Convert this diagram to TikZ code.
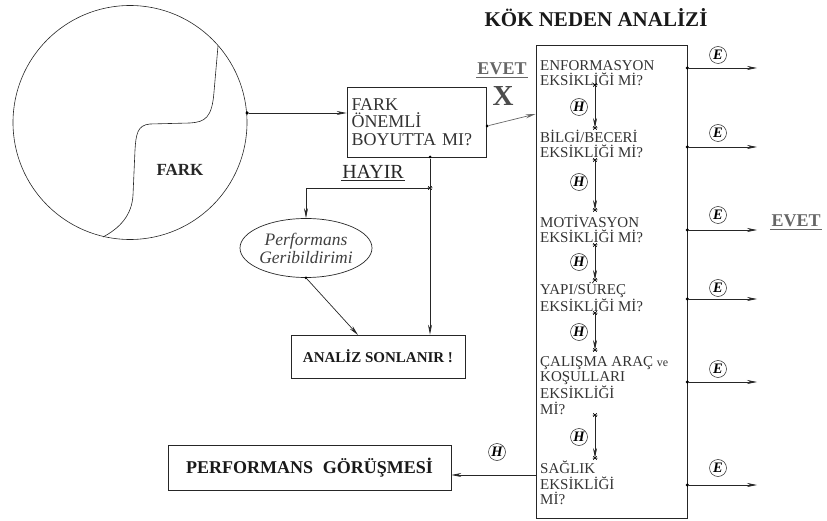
\documentclass[tikz,border=0pt]{standalone}
\usepackage{fontspec}
\setmainfont{Liberation Serif}
\usetikzlibrary{arrows.meta,shapes.geometric}

\tikzset{
  ln/.style={draw=black!85, line width=0.7pt},
  arr/.style={ln, -{Stealth[length=10pt,width=4pt]}},
  q/.style={anchor=base west, align=left, inner sep=0pt,
    font=\fontsize{15}{15.5}\selectfont, text=black!80},
  tag/.style={circle, draw=black!85, line width=0.5pt, minimum size=17pt,
    inner sep=0pt, font=\fontsize{14.5}{14.5}\selectfont\bfseries\itshape},
  dot/.style={circle, fill=black, inner sep=0pt, minimum size=3.5pt},
  astk/.pic={\draw[line width=0.5pt] (-2.5,0)--(2.5,0) (-1.8,-1.8)--(1.8,1.8) (-1.8,1.8)--(1.8,-1.8);},
  bbox/.style={draw=black!85, line width=0.7pt, inner sep=0pt},
  yes/.style={font=\fontsize{18}{18}\selectfont\bfseries, text=black!60, inner sep=1pt},
  uline/.style={draw=black!60, line width=1.3pt}
}

\begin{document}
\begin{tikzpicture}[x=1pt,y=-1pt]
\useasboundingbox (0,0) rectangle (827,521);

% --- the difference circle ---
\node[circle, draw=black!85, line width=0.6pt, minimum size=234pt, inner sep=0pt] (fcirc) at (130,122.5) {};
\draw[ln, line width=0.6pt] (218,46) -- (214,92) .. controls (212,118) and (205,122) .. (190,123)
  -- (150,124) .. controls (137,125) and (136,135) .. (135,150)
  -- (133,195) .. controls (132,215) and (120,228) .. (103,237);
\node[font=\fontsize{17}{17}\selectfont\bfseries, text=black!85] (farklbl) at (180,170) {FARK};
\coordinate (cdot) at (247,113);
\node[dot] (cdotn) at (cdot) {};

% --- decision box ---
\node[bbox, minimum width=139pt, minimum height=70pt, text width=130pt, align=left,
  font=\fontsize{18}{17.5}\selectfont, text=black!80] (fark) at (416.5,122)
  {FARK\\ÖNEMLİ\\BOYUTTA MI?};
\draw[arr] (cdotn) -- (cdot -| fark.west);

% --- yes branch label ---
\node[yes] (evet1) at (502,69) {EVET};
\draw[uline] ([yshift=-1pt]evet1.south west) -- ([yshift=-1pt]evet1.south east);
\node[font=\fontsize{29}{29}\selectfont\bfseries, text=black!70, inner sep=0pt] (xmark) at (503,96) {X};

% --- no branch ---
\node[font=\fontsize{20}{20}\selectfont, text=black!85, inner sep=1pt] (hayir) at (373,172) {HAYIR};
\draw[draw=black!85, line width=1.2pt] ([yshift=-1pt]hayir.south west) -- ([yshift=-1pt]hayir.south east);
\coordinate (jn) at (430,188);
\pic at (jn) {astk};
\node[ellipse, draw=black!85, line width=0.7pt, minimum width=128pt, minimum height=59pt,
  inner sep=0pt, align=center, font=\fontsize{17.5}{18}\selectfont\itshape, text=black!75]
  (perfgb) at (306,248) {Performans\\Geribildirimi};
\node[bbox, minimum width=174pt, minimum height=43pt,
  font=\fontsize{15}{15}\selectfont\bfseries, text=black!90] (analiz) at (378,356.5)
  {ANALİZ SONLANIR !};
\node[dot, minimum size=3pt] (fs) at (430,157) {};
\draw[arr] (fs) -- (jn |- analiz.north);
\draw[arr] (jn) -| (perfgb.north);
\node[dot, minimum size=3pt] (es) at (perfgb.south) {};
\draw[arr] (es) -- (358,335);

% --- root cause analysis column ---
\node[font=\fontsize{21}{21}\selectfont\bfseries, text=black!90] (title) at (596,18) {KÖK NEDEN ANALİZİ};
\node[bbox, minimum width=151pt, minimum height=473pt] (main) at (611.5,281.5) {};
\node[dot, minimum size=3pt] (fe) at (487,126) {};
\draw[arr, draw=black!60] (fe) -- (main.west |- 0,114);

% questions: anchored at the baseline of their last line
\node[q] (q1) at (540,86) {ENFORMASYON\\EKSİKLİĞİ Mİ?};
\node[q] (q2) at (540,158) {BİLGİ/BECERİ\\EKSİKLİĞİ Mİ?};
\node[q] (q3) at (540,243) {MOTİVASYON\\EKSİKLİĞİ Mİ?};
\node[q] (q4) at (540,311) {YAPI/SÜREÇ\\EKSİKLİĞİ Mİ?};
\node[q] (q5) at (540,414) {ÇALIŞMA ARAÇ {\fontsize{12}{12}\selectfont ve}\\KOŞULLARI\\EKSİKLİĞİ\\Mİ?};
\node[q] (q6) at (540,504.5) {SAĞLIK\\EKSİKLİĞİ\\Mİ?};

% "no" steps between the questions
\foreach \i/\a/\b/\h in {1/85/128/107, 2/160/210/182, 3/245/280/262, 4/313/350/332, 5/415/458/437} {
  \coordinate (hs\i) at (595,\a);
  \coordinate (he\i) at (595,\b);
  \pic at (hs\i) {astk};
  \pic at (he\i) {astk};
  \draw[arr] (hs\i) -- (he\i);
  \node[tag] (ht\i) at (579,\h) {H};
}

% "yes" exits on the right
\foreach \i/\y/\e in {1/68/55, 2/147/133, 3/230/215, 4/299/288, 5/382/369, 6/485/468} {
  \node[dot] (rd\i) at (main.east |- 0,\y) {};
  \coordinate (re\i) at (757,\y);
  \draw[arr] (rd\i) -- (re\i);
  \node[tag] (et\i) at (718,\e) {E};
}
\node[yes] (evet2) at (796,221) {EVET};
\draw[uline] ([yshift=-1pt]evet2.south west) -- ([yshift=-1pt]evet2.south east);

% --- performance interview ---
\node[bbox, minimum width=283pt, minimum height=45pt,
  font=\fontsize{18}{18}\selectfont\bfseries, text=black!90] (perf) at (309.5,467.5)
  {PERFORMANS\hspace{0.3em} GÖRÜŞMESİ};
\draw[arr] (main.west |- 0,475) -- (perf.east |- 0,475);
\node[tag] (ht6) at (497,452) {H};
\end{tikzpicture}
\end{document}
